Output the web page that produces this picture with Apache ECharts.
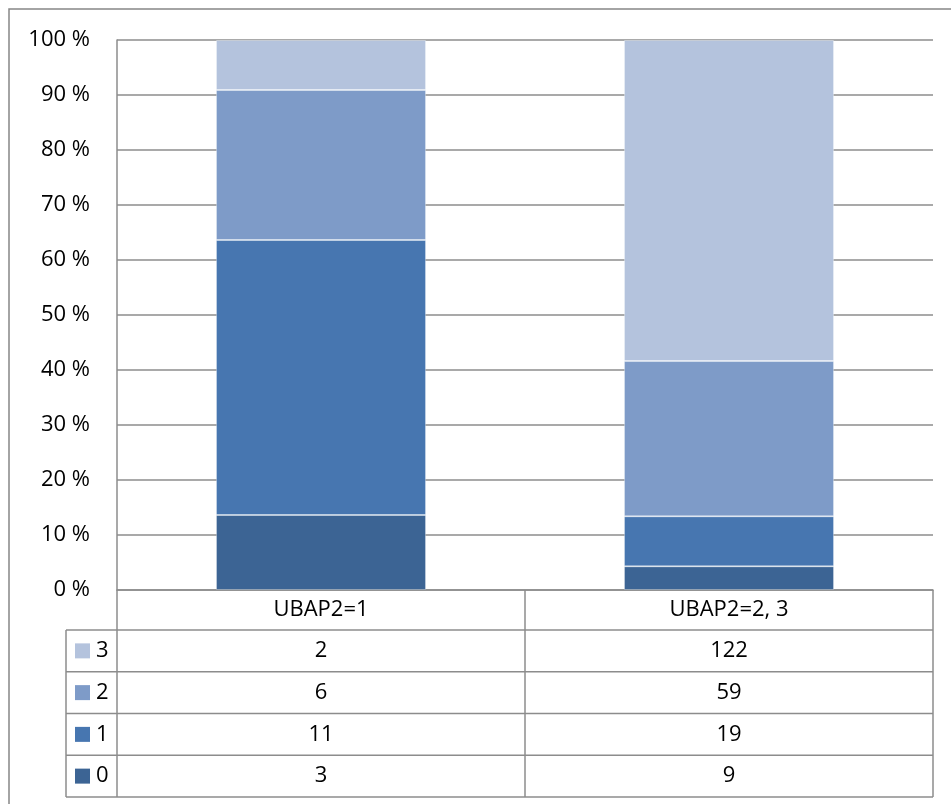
<!DOCTYPE html>
<html>
<head>
<meta charset="utf-8">
<script src="https://cdn.jsdelivr.net/npm/echarts@6/dist/echarts.min.js"></script>
<style>
  html, body { margin: 0; padding: 0; background: #ffffff; }
  #chart { width: 951px; height: 804px; }
</style>
</head>
<body>
<div id="chart"></div>
<script>
// Groups along the x axis
const categories = ['UBAP2=1', 'UBAP2=2, 3'];
// Score levels, stacked bottom (0) to top (3)
const levels = ['0', '1', '2', '3'];
// Counts per level for each group
const countsLevel0 = [3, 9];
const countsLevel1 = [11, 19];
const countsLevel2 = [6, 59];
const countsLevel3 = [2, 122];
// Percent axis ticks
const yTicks = [0, 10, 20, 30, 40, 50, 60, 70, 80, 90, 100];

const levelCounts = [countsLevel0, countsLevel1, countsLevel2, countsLevel3];
const levelColors = ['#3C6494', '#4776B0', '#7E9BC8', '#B4C3DD'];

const FONT_FAMILY = '"Open Sans", "Noto Sans", sans-serif';
const FONT_SIZE = 22;
const LINE_COLOR = '#8c8c8c';

// Plot + table layout
const plotLeft = 117, plotRight = 933, plotTop = 40, plotBottom = 590;
const headerBottom = 630, tableBottom = 797, legendLeft = 66;
const rowCount = levels.length;
const rowH = (tableBottom - headerBottom) / rowCount;

const totals = categories.map((_, i) => levelCounts.reduce((s, arr) => s + arr[i], 0));

const chart = echarts.init(document.getElementById('chart'), null, { renderer: 'canvas' });

const series = levels.map((name, k) => ({
  name: name,
  type: 'bar',
  stack: 'share',
  barWidth: 210,
  data: levelCounts[k].map((v, i) => v / totals[i] * 100),
  itemStyle: {
    color: levelColors[k],
    borderColor: 'rgba(255,255,255,0.3)',
    borderWidth: 1
  },
  emphasis: { disabled: true }
}));

// Data table beneath the plot
const graphics = [];
function hline(x1, x2, y) {
  graphics.push({ type: 'line', silent: true, shape: { x1: x1, y1: y, x2: x2, y2: y },
    style: { stroke: LINE_COLOR, lineWidth: 1.5 } });
}
function vline(x, y1, y2) {
  graphics.push({ type: 'line', silent: true, shape: { x1: x, y1: y1, x2: x, y2: y2 },
    style: { stroke: LINE_COLOR, lineWidth: 1.5 } });
}
function text(str, x, y, align) {
  graphics.push({ type: 'text', silent: true, x: x, y: y,
    style: { text: str, font: FONT_SIZE + 'px ' + FONT_FAMILY, fill: '#000',
      textAlign: align, textVerticalAlign: 'middle', align: align, verticalAlign: 'middle' } });
}

// outer chart frame
graphics.push({ type: 'rect', silent: true, shape: { x: 9, y: 9, width: 1200, height: 1200 },
  style: { fill: null, stroke: '#868686', lineWidth: 1.5 } });

const colW = (plotRight - plotLeft) / categories.length;
// horizontal rules
for (let r = 0; r <= rowCount; r++) hline(legendLeft, plotRight, headerBottom + r * rowH);
// vertical rules
vline(legendLeft, headerBottom, tableBottom);
vline(plotLeft, plotBottom, tableBottom);
for (let c = 1; c <= categories.length; c++) vline(plotLeft + c * colW, plotBottom, tableBottom);

// header
categories.forEach((cat, i) => text(cat, plotLeft + (i + 0.5) * colW, (plotBottom + headerBottom) / 2, 'center'));
// rows: top level first
for (let r = 0; r < rowCount; r++) {
  const k = rowCount - 1 - r;
  const cy = headerBottom + (r + 0.5) * rowH;
  graphics.push({ type: 'rect', silent: true, shape: { x: 75, y: cy - 7.5, width: 15, height: 15 },
    style: { fill: levelColors[k] } });
  text(levels[k], 96, cy, 'left');
  categories.forEach((_, i) => text(String(levelCounts[k][i]), plotLeft + (i + 0.5) * colW, cy, 'center'));
}

chart.setOption({
  animation: false,
  backgroundColor: '#ffffff',
  grid: { left: plotLeft, top: plotTop, right: 951 - plotRight, bottom: 804 - plotBottom, containLabel: false },
  xAxis: {
    type: 'category',
    data: categories,
    axisLine: { show: true, lineStyle: { color: LINE_COLOR, width: 1.5 } },
    axisTick: { show: false },
    axisLabel: { show: false },
    splitLine: { show: false }
  },
  yAxis: {
    type: 'value',
    min: yTicks[0],
    max: yTicks[yTicks.length - 1],
    interval: yTicks[1] - yTicks[0],
    axisLine: { show: true, lineStyle: { color: LINE_COLOR, width: 1.5 } },
    axisTick: { show: false },
    axisLabel: {
      formatter: '{value} %',
      color: '#000',
      fontFamily: FONT_FAMILY,
      fontSize: FONT_SIZE,
      margin: 27
    },
    splitLine: { show: true, lineStyle: { color: LINE_COLOR, width: 1.5 } }
  },
  series: series,
  graphic: { elements: graphics }
});
</script>
</body>
</html>
